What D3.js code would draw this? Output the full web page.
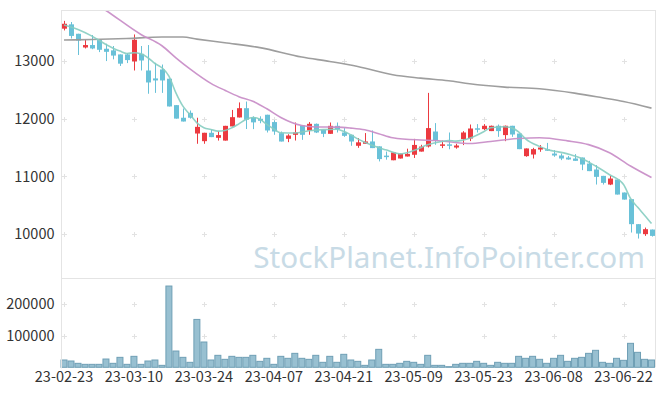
<!DOCTYPE html>
<html>
<head>
<meta charset="utf-8">
<script src="https://cdn.jsdelivr.net/npm/d3@7"></script>
<style>
  html, body { margin: 0; padding: 0; background: #fff; }
  svg text { font-family: "Noto Sans CJK KR", "Noto Sans", sans-serif; }
</style>
</head>
<body>
<div id="chart"></div>
<script>
// trading days shown on the chart
let dates = [
  "23-02-23","23-02-24","23-02-27","23-02-28","23-03-02","23-03-03","23-03-06","23-03-07","23-03-08","23-03-09",
  "23-03-10","23-03-13","23-03-14","23-03-15","23-03-16","23-03-17","23-03-20","23-03-21","23-03-22","23-03-23",
  "23-03-24","23-03-27","23-03-28","23-03-29","23-03-30","23-03-31","23-04-03","23-04-04","23-04-05","23-04-06",
  "23-04-07","23-04-10","23-04-11","23-04-12","23-04-13","23-04-14","23-04-17","23-04-18","23-04-19","23-04-20",
  "23-04-21","23-04-24","23-04-25","23-04-26","23-04-27","23-04-28","23-05-02","23-05-03","23-05-04","23-05-08",
  "23-05-09","23-05-10","23-05-11","23-05-12","23-05-15","23-05-16","23-05-17","23-05-18","23-05-19","23-05-22",
  "23-05-23","23-05-24","23-05-25","23-05-26","23-05-30","23-05-31","23-06-01","23-06-02","23-06-05","23-06-07",
  "23-06-08","23-06-09","23-06-12","23-06-13","23-06-14","23-06-15","23-06-16","23-06-19","23-06-20","23-06-21",
  "23-06-22","23-06-23","23-06-26","23-06-27","23-06-28"
];

let opens = [
  13555,13630,13467,13230,13272,13358,13208,13180,13110,13110,
  12990,13120,12832,12695,12850,12690,12233,12015,12100,11742,
  11610,11755,11668,11620,11865,12020,12180,12020,11997,12067,
  11940,11749,11651,11720,11881,11794,11910,11806,11737,11875,
  11760,11720,11530,11565,11605,11520,11360,11280,11310,11345,
  11375,11430,11518,11777,11540,11555,11500,11645,11656,11833,
  11818,11784,11876,11715,11876,11742,11351,11379,11465,11470,
  11396,11362,11327,11310,11327,11223,11120,11010,10860,10947,
  10722,10607,10175,10002,10082
];
let highs = [
  13690,13670,13467,13358,13445,13358,13295,13255,13110,13133,
  13455,13255,13272,12965,12935,12690,12233,12175,12140,12015,
  11755,11810,11785,11875,12150,12280,12295,12040,12040,12067,
  11970,11777,11730,11933,11881,11940,11915,11806,11933,11933,
  11836,11720,11663,11750,11795,11520,11430,11415,11395,11480,
  11650,11547,12445,11922,11620,11760,11565,11783,11898,11905,
  11905,11880,11898,11880,11876,11742,11484,11495,11542,11580,
  11455,11396,11355,11386,11327,11270,11196,11010,11010,10947,
  10722,10607,10175,10116,10082
];
let lows = [
  13525,13385,13100,13213,13200,13150,12995,13025,12910,12960,
  12832,12832,12430,12445,12445,12210,12000,11950,12000,11565,
  11565,11680,11620,11620,11865,12020,11820,11818,11920,11760,
  11720,11604,11593,11621,11633,11720,11750,11680,11737,11760,
  11685,11530,11495,11565,11490,11260,11290,11280,11310,11345,
  11320,11430,11500,11547,11490,11470,11480,11542,11611,11760,
  11800,11784,11685,11610,11685,11472,11340,11310,11426,11440,
  11340,11282,11290,11270,11109,11092,10860,10860,10850,10687,
  10600,10030,9926,9972,9960
];
let closes = [
  13640,13430,13350,13272,13213,13190,13155,13090,12950,13012,
  13363,13005,12625,12660,12660,12210,12000,11950,12015,11858,
  11755,11680,11715,11875,12025,12180,11980,11935,11962,11795,
  11777,11604,11708,11760,11720,11910,11760,11737,11875,11818,
  11702,11604,11590,11605,11490,11300,11350,11415,11395,11390,
  11545,11517,11836,11620,11555,11540,11535,11760,11829,11820,
  11876,11876,11784,11876,11725,11472,11484,11472,11500,11465,
  11362,11310,11293,11270,11206,11092,10993,10889,10964,10687,
  10600,10175,10012,10088,9972
];
let volumes = [
  23200,20000,12600,9400,9400,9400,26300,12600,31600,9400,
  34800,9400,20000,23200,6200,258000,51700,31600,15800,152000,
  80300,23200,38000,25300,34800,31600,31600,38000,18900,28500,
  9400,34800,28500,44300,28500,25300,38000,15800,34800,15800,
  41200,23200,18900,6200,23200,57000,9400,9400,12600,18900,
  15800,9400,38000,6200,6200,2000,9400,12600,12600,18900,
  12600,6200,15800,12600,12600,34800,28500,34800,25300,12600,
  28500,38000,18900,28500,31600,44300,53900,15800,12600,28500,
  22100,76100,47500,25300,23200
];

// moving averages: [day index, value]
let ma5 = [
  [0,13618],[2,13542],[4,13427],[6,13282],[8,13167],[9,13126],[10,13138],[11,13120],[12,13052],
  [13,12953],[14,12879],[15,12735],[16,12446],[17,12216],[18,12071],[19,11927],[20,11841],[21,11812],
  [22,11784],[23,11795],[24,11841],[25,11910],[26,11985],[27,12020],[28,11990],[29,11900],[30,11820],
  [31,11755],[33,11750],[35,11790],[37,11810],[39,11815],[40,11780],[41,11720],[42,11650],[43,11590],
  [44,11540],[46,11460],[48,11391],[50,11448],[52,11547],[54,11604],[55,11621],[56,11611],[58,11660],
  [60,11772],[61,11841],[63,11858],[64,11840],[65,11772],[66,11650],[68,11520],[69,11472],[72,11390],
  [74,11310],[76,11180],[78,11030],[80,10860],[81,10618],[82,10470],[83,10330],[84,10185]
];
let ma20 = [
  [0,14330],[3,14100],[6,13870],[11,13455],[14,13260],[16,13052],[18,12860],[21,12610],[23,12490],
  [25,12380],[27,12300],[29,12170],[31,12020],[34,11880],[36,11855],[39,11853],[41,11836],[43,11806],
  [45,11740],[47,11670],[51,11630],[53,11621],[55,11600],[58,11570],[61,11605],[65,11655],[68,11668],
  [72,11615],[75,11550],[78,11410],[81,11180],[84,10981]
];
let ma60 = [
  [0,13358],[4,13369],[9,13386],[14,13410],[17,13410],[19,13375],[23,13311],[28,13228],[34,13064],
  [38,12988],[42,12902],[47,12758],[51,12700],[55,12654],[58,12602],[63,12545],[68,12516],[73,12441],
  [77,12360],[80,12296],[84,12181]
];

let priceTicks = [10000, 11000, 12000, 13000];
let volumeTicks = [100000, 200000];
let dateTicks = ["23-02-23","23-03-10","23-03-24","23-04-07","23-04-21","23-05-09","23-05-23","23-06-08","23-06-22"];

let width = 665, height = 396;
let left = 61.5, right = 655;
let mainTop = 10, mainBottom = 278, volBottom = 367.3;

let upColor = "#ec3a40", downColor = "#69c1d8";

let svg = d3.select("#chart").append("svg")
  .attr("width", width)
  .attr("height", height);

let x = d3.scaleBand().domain(dates).range([60.5, right]);
let step = x.step();
let cx = (i) => x(dates[i]) + step / 2;

let y = d3.scaleLinear().domain([9244, 13878]).range([mainBottom, mainTop]);
let yv = d3.scaleLinear().domain([0, 283500]).range([volBottom, mainBottom]);

svg.append("defs").append("clipPath").attr("id", "mainClip")
  .append("rect")
  .attr("x", left).attr("y", mainTop)
  .attr("width", right - left).attr("height", mainBottom - mainTop);

// watermark
let wm = svg.append("text")
  .attr("x", 645)
  .attr("y", 268)
  .attr("text-anchor", "end")
  .style("font-family", "'Noto Sans', sans-serif")
  .style("font-size", "36px")
  .attr("fill", "#c8dbe6")
  .text("StockPlanet.InfoPointer.com");
let wmLen = wm.node().getComputedTextLength();
wm.style("font-size", (36 * 392 / wmLen) + "px");

// grid crosses
let crossG = svg.append("g").attr("stroke", "#e2e2e2").attr("stroke-width", 1);
let tickXs = dateTicks.map(d => x(d) + step / 2);
let tickYs = priceTicks.map(v => y(v)).concat(volumeTicks.map(v => yv(v)));
tickXs.forEach(tx => {
  tickYs.forEach(ty => {
    let px = Math.round(tx) + 0.5, py = Math.round(ty) + 0.5;
    crossG.append("line").attr("x1", px - 2.5).attr("x2", px + 2.5).attr("y1", py).attr("y2", py);
    crossG.append("line").attr("x1", px).attr("x2", px).attr("y1", py - 2.5).attr("y2", py + 2.5);
  });
});

// candles
let candles = svg.append("g")
  .selectAll("g")
  .data(dates.map((d, i) => i))
  .enter()
  .append("g");

candles.append("line")
  .attr("x1", i => Math.round(cx(i)) + 0.5)
  .attr("x2", i => Math.round(cx(i)) + 0.5)
  .attr("y1", i => y(highs[i]))
  .attr("y2", i => y(lows[i]))
  .attr("stroke", i => closes[i] >= opens[i] ? upColor : downColor)
  .attr("stroke-width", 1);

candles.append("rect")
  .attr("x", i => Math.round(cx(i)) + 0.5 - 2.5)
  .attr("width", 5)
  .attr("y", i => y(Math.max(opens[i], closes[i])))
  .attr("height", i => Math.max(1.5, Math.abs(y(opens[i]) - y(closes[i]))))
  .attr("fill", i => closes[i] >= opens[i] ? upColor : downColor);

// moving average lines
let maLine = d3.line()
  .x(d => cx(d[0]))
  .y(d => y(d[1]))
  .curve(d3.curveMonotoneX);

let lines = svg.append("g").attr("clip-path", "url(#mainClip)");
lines.append("path").datum(ma60).attr("d", maLine)
  .attr("fill", "none").attr("stroke", "#999999").attr("stroke-width", 1.6).attr("stroke-opacity", 0.95);
lines.append("path").datum(ma20).attr("d", maLine)
  .attr("fill", "none").attr("stroke", "#c98fc8").attr("stroke-width", 1.6).attr("stroke-opacity", 0.95);
lines.append("path").datum(ma5).attr("d", maLine)
  .attr("fill", "none").attr("stroke", "#86cdc1").attr("stroke-width", 1.6).attr("stroke-opacity", 0.9);

// volume bars
svg.append("g")
  .selectAll("rect")
  .data(volumes)
  .enter()
  .append("rect")
  .attr("x", (v, i) => x(dates[i]) + 0.5)
  .attr("width", step - 1)
  .attr("y", v => yv(v))
  .attr("height", v => volBottom - yv(v))
  .attr("fill", "#98c0d1")
  .attr("stroke", "#6f9fb5")
  .attr("stroke-width", 1);

// frame
let frame = svg.append("g").attr("stroke", "#e4e4e4").attr("stroke-width", 1).attr("fill", "none");
frame.append("line").attr("x1", left).attr("x2", left).attr("y1", mainTop).attr("y2", volBottom + 1);
frame.append("line").attr("x1", left).attr("x2", right).attr("y1", mainTop + 0.5).attr("y2", mainTop + 0.5);
frame.append("line").attr("x1", right + 0.5).attr("x2", right + 0.5).attr("y1", mainTop).attr("y2", volBottom);
frame.append("line").attr("x1", left).attr("x2", right).attr("y1", mainBottom + 0.5).attr("y2", mainBottom + 0.5);

// axes
let styleAxis = (g) => {
  g.select(".domain").remove();
  g.selectAll("text").attr("fill", "#333").style("font-size", "14.5px");
};

svg.append("g")
  .attr("transform", `translate(${left},0)`)
  .call(d3.axisLeft(y).tickValues(priceTicks).tickSize(0).tickPadding(7).tickFormat(d3.format("d")))
  .call(styleAxis);

svg.append("g")
  .attr("transform", `translate(${left},0)`)
  .call(d3.axisLeft(yv).tickValues(volumeTicks).tickSize(0).tickPadding(7).tickFormat(d3.format("d")))
  .call(styleAxis);

svg.append("g")
  .attr("transform", `translate(0,${volBottom})`)
  .call(d3.axisBottom(x).tickValues(dateTicks).tickSize(0).tickPadding(4))
  .call(styleAxis);
</script>
</body>
</html>
